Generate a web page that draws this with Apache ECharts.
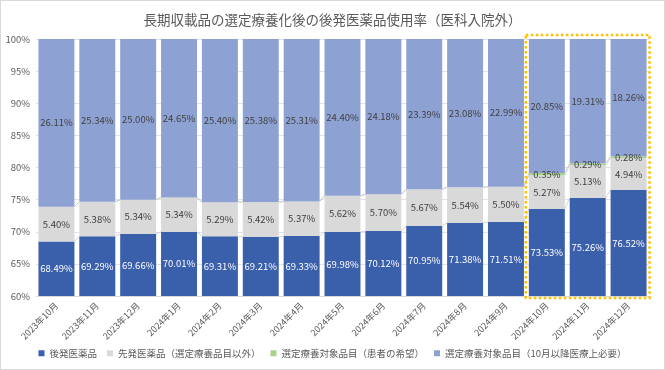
<!DOCTYPE html>
<html><head><meta charset="utf-8">
<script src="https://cdn.jsdelivr.net/npm/echarts@6/dist/echarts.min.js"></script>
<style>html,body{margin:0;padding:0;background:#fff}#c{width:665px;height:370px;box-sizing:border-box;border:1px solid #d9d9d9}</style>
</head><body><div id="c"></div>
<script>
const categories = ['2023年10月','2023年11月','2023年12月','2024年1月','2024年2月','2024年3月','2024年4月','2024年5月','2024年6月','2024年7月','2024年8月','2024年9月','2024年10月','2024年11月','2024年12月'];
const generic = [68.49,69.29,69.66,70.01,69.31,69.21,69.33,69.98,70.12,70.95,71.38,71.51,73.53,75.26,76.52];
const brandOther = [5.40,5.38,5.34,5.34,5.29,5.42,5.37,5.62,5.70,5.67,5.54,5.50,5.27,5.13,4.94];
const selectedPatient = [0,0,0,0,0,0,0,0,0,0,0,0,0.35,0.29,0.28];
const selectedMedical = [26.11,25.34,25.00,24.65,25.40,25.38,25.31,24.40,24.18,23.39,23.08,22.99,20.85,19.31,18.26];
const yTicks = [60,65,70,75,80,85,90,95,100];
const highlightFrom = '2024年10月', highlightTo = '2024年12月';

const FONT = '"Noto Sans CJK JP", sans-serif';
const names = ['後発医薬品','先発医薬品（選定療養品目以外）','選定療養対象品目（患者の希望）','選定療養対象品目（10月以降医療上必要）'];
const colors = ['#3A5FAB','#D9D9D9','#A9D18E','#8EA1D3'];
const labelColors = ['#ffffff','#404040','#404040','#404040'];
const datasets = [generic, brandOther, selectedPatient, selectedMedical];
const barGapRatio = 0.12;

const cum = datasets.map((d, k) => d.map((v, i) => datasets.slice(0, k + 1).reduce((s, a) => s + a[i], 0)));
const connData = [];
for (let i = 0; i < categories.length - 1; i++) {
  connData.push([i, cum[0][i], cum[0][i+1], cum[1][i], cum[1][i+1], cum[2][i], cum[2][i+1]]);
}

const chart = echarts.init(document.getElementById('c'), null, {renderer: 'canvas'});
const series = datasets.map((d, k) => ({
  name: names[k], type: 'bar', stack: 'total', data: d,
  barCategoryGap: (barGapRatio * 100) + '%',
  itemStyle: {color: colors[k]},
  label: {
    show: true, position: 'inside', color: labelColors[k], fontSize: 9.5, fontFamily: FONT,
    formatter: p => p.value > 0 ? p.value.toFixed(2) + '%' : ''
  },
  z: 2
}));
series.push({
  type: 'custom', name: 'conn', silent: true, z: 3,
  data: connData, encode: {x: 0, y: 1},
  renderItem: (params, api) => {
    const i = api.value(0);
    const half = api.size([1, 0])[0] * (1 - barGapRatio) / 2;
    const children = [];
    for (let k = 0; k < 3; k++) {
      const a = api.coord([i, api.value(1 + 2*k)]);
      const b = api.coord([i + 1, api.value(2 + 2*k)]);
      children.push({type: 'line', shape: {x1: a[0] + half, y1: a[1], x2: b[0] - half, y2: b[1]},
        style: {stroke: '#C8C8C8', lineWidth: 0.8}});
    }
    return {type: 'group', children, clipPath: {type: 'rect', shape: {x: params.coordSys.x, y: params.coordSys.y, width: params.coordSys.width, height: params.coordSys.height}}};
  }
});

chart.setOption({
  animation: false,
  title: {text: '長期収載品の選定療養化後の後発医薬品使用率（医科入院外）', left: 'center', top: 7,
    textStyle: {fontFamily: FONT, fontSize: 13.5, fontWeight: 'normal', color: '#595959'}},
  grid: {left: 35, right: 15, top: 38, bottom: 73},
  legend: {data: names, bottom: 6, left: 'center', itemWidth: 6, itemHeight: 6, itemGap: 10, icon: 'rect',
    textStyle: {fontFamily: FONT, fontSize: 9.5, color: '#595959'}},
  xAxis: {type: 'category', data: categories,
    axisLine: {lineStyle: {color: '#D9D9D9'}}, axisTick: {show: false},
    axisLabel: {rotate: 45, fontFamily: FONT, fontSize: 9, color: '#595959', interval: 0, margin: 8}},
  yAxis: {type: 'value', min: yTicks[0], max: yTicks[yTicks.length-1], interval: yTicks[1]-yTicks[0],
    axisLine: {show: false}, axisTick: {show: false},
    splitLine: {lineStyle: {color: '#E3E3E3'}},
    axisLabel: {formatter: '{value}%', fontFamily: FONT, fontSize: 9.5, color: '#595959', margin: 6}},
  series
});

const i0 = categories.indexOf(highlightFrom), i1 = categories.indexOf(highlightTo);
const pa = chart.convertToPixel({xAxisIndex: 0, yAxisIndex: 0}, [i0, yTicks[yTicks.length-1]]);
const pb = chart.convertToPixel({xAxisIndex: 0, yAxisIndex: 0}, [i1, yTicks[0]]);
const band = (chart.convertToPixel({xAxisIndex: 0}, 1) - chart.convertToPixel({xAxisIndex: 0}, 0));
const halfBar = band * (1 - barGapRatio) / 2;
chart.setOption({graphic: [{type: 'rect', silent: true, z: 10,
  shape: {x: pa[0] - halfBar - 3, y: pa[1] - 4, width: (pb[0] - pa[0]) + 2*halfBar + 6, height: (pb[1] - pa[1]) + 6},
  style: {fill: 'none', stroke: '#FFC000', lineWidth: 2.5, lineDash: [2.5, 2.5]}}]});
</script></body></html>
